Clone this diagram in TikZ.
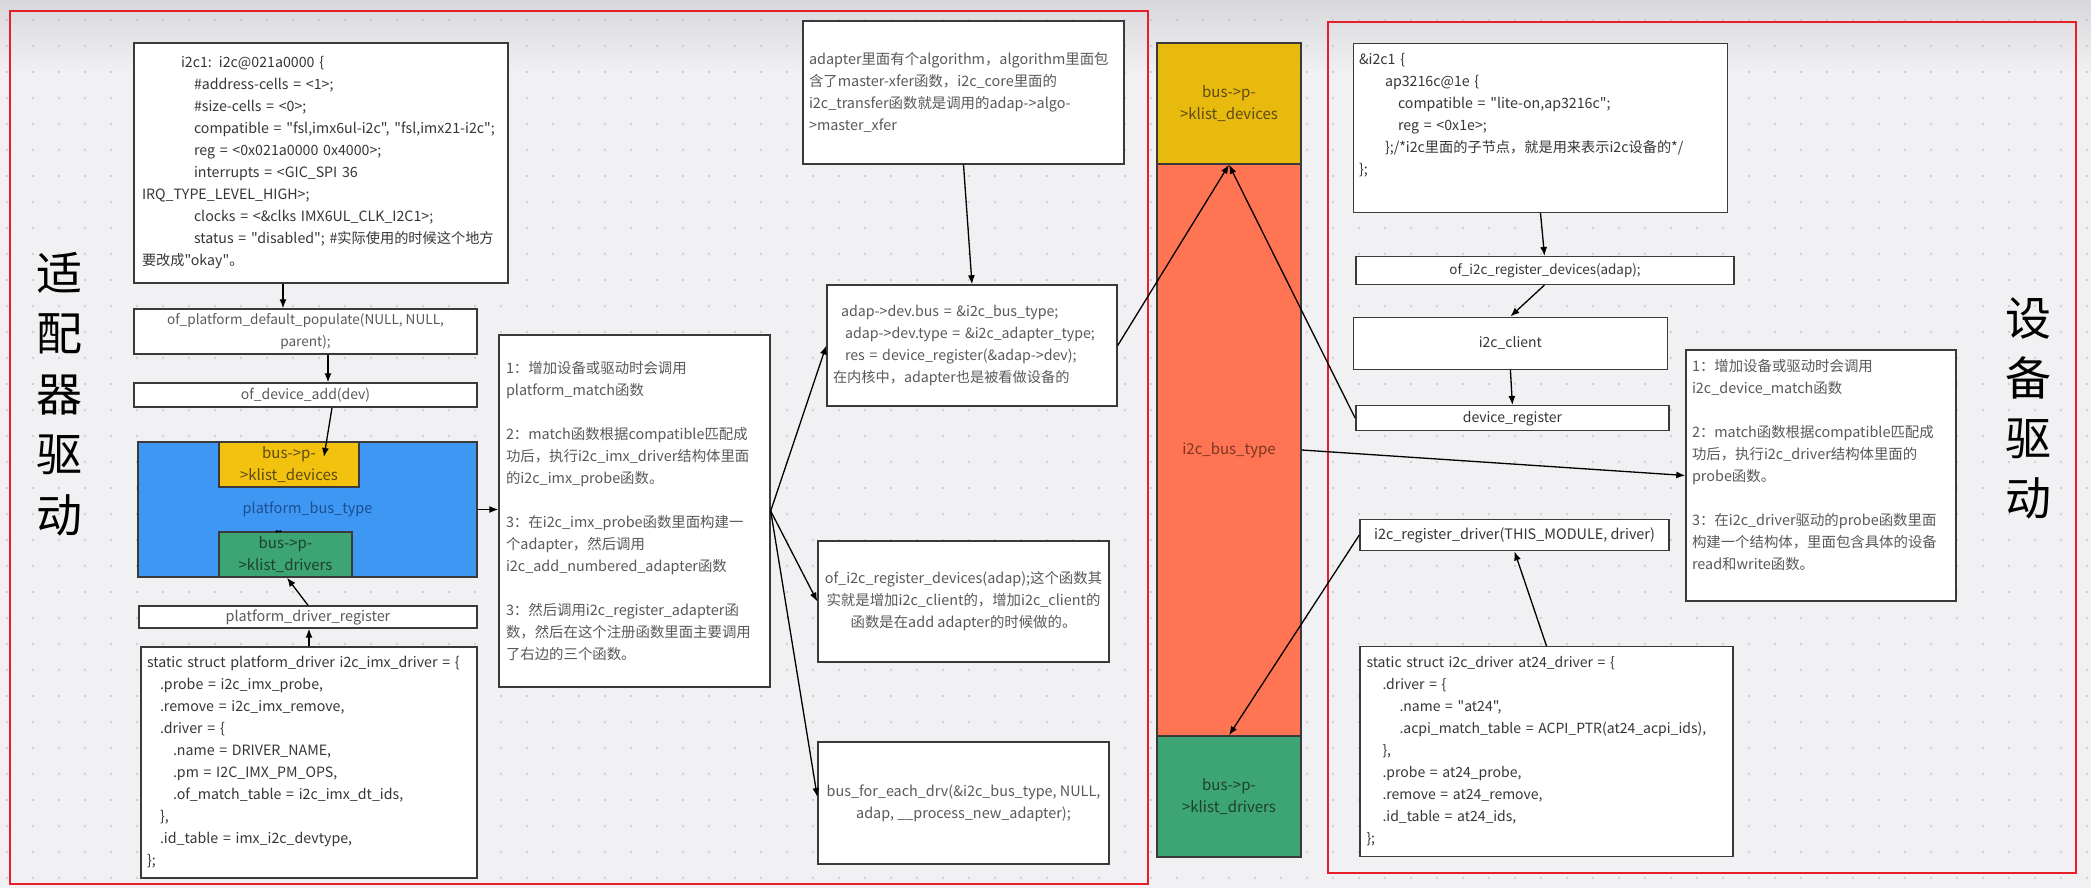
\documentclass[tikz,border=0pt]{standalone}
\usepackage{fontspec}
\setmainfont{Noto Sans CJK SC}[Ligatures=TeXOff]
\usetikzlibrary{arrows.meta}
\definecolor{paper}{HTML}{F1F1F3}
\definecolor{papertop}{HTML}{D8D8DC}
\definecolor{griddot}{HTML}{C4C4C8}
\definecolor{framered}{HTML}{E5202A}
\definecolor{boxline}{HTML}{3A3A3A}
\definecolor{codetxt}{HTML}{363636}
\definecolor{notetxt}{HTML}{595959}
\definecolor{pbusblue}{HTML}{3F97F4}
\definecolor{pbustxt}{HTML}{1D4E8F}
\definecolor{klyellow}{HTML}{F2C20E}
\definecolor{klyellowtxt}{HTML}{5B4A14}
\definecolor{klgreen}{HTML}{3CA573}
\definecolor{klgreentxt}{HTML}{1F3F2F}
\definecolor{busorange}{HTML}{FF7452}
\definecolor{busorangetxt}{HTML}{7A3524}
\newcommand{\indt}[1]{\hspace*{#1pt}}
\tikzset{
  box/.style={
    rectangle, draw=boxline, fill=white, line width=1.4pt,
    inner xsep=6pt, inner ysep=0pt, text=codetxt,
  },
  codebox/.style={box, align=left, font=\fontsize{14.2}{22}\selectfont},
  notebox/.style={box, align=left, text=notetxt, font=\fontsize{14.4}{22}\selectfont},
  lblbox/.style={box, align=center, text=notetxt, font=\fontsize{14.4}{22}\selectfont},
  devlbl/.style={box, align=center, font=\fontsize{14}{22}\selectfont},
  listbox/.style={
    rectangle, draw=boxline, line width=1.4pt, inner sep=0pt,
    align=center, font=\fontsize{15}{22}\selectfont,
  },
  bigchar/.style={align=center, text=black, font=\fontsize{46}{60.5}\selectfont},
  frame/.style={draw=framered, line width=2pt},
  arr/.style={-{Latex[length=9pt,width=7pt]}, line width=1.3pt, black},
  tinyarr/.style={{Latex[length=3pt,width=3pt]}-{Latex[length=3pt,width=3pt]}, line width=0.8pt, black},
}

\begin{document}
\begin{tikzpicture}[x=1pt, y=-1pt]

% ── canvas ──────────────────────────────────────────────────────────────
\useasboundingbox (0,0) rectangle (2091,888);
\fill[paper] (0,0) rectangle (2091,888);
\shade[top color=papertop, bottom color=paper] (0,0) rectangle (2091,75);
\foreach \i in {0,...,80}
  \foreach \j in {0,...,33}
    \fill[griddot] (7+26*\i, 20+26*\j) circle (1.1pt);

% ── the two red frames ─────────────────────────────────────────────────
\draw[frame] (10,11) rectangle (1148,884);
\draw[frame] (1327.5,22) rectangle (2076,873);

\node[bigchar] (adaptlbl) at (59,394) {适\\配\\器\\驱\\动};
\node[bigchar, font=\fontsize{46}{60}\selectfont] (drvlbl) at (2028,408) {设\\备\\驱\\动};

% ── left column: platform side ─────────────────────────────────────────
\node[codebox, inner xsep=3pt, minimum width=374pt, minimum height=240pt, text width=368pt] (dt) at (321,163) {%
\indt{44}i2c1: i2c@021a0000 \{\\
\indt{57}\#address-cells = <1>;\\
\indt{57}\#size-cells = <0>;\\
\indt{57}compatible = "fsl,imx6ul-i2c", "fsl,imx21-i2c";\\
\indt{57}reg = <0x021a0000 0x4000>;\\
\indt{57}interrupts = <GIC\_SPI 36\\
\indt{5}IRQ\_TYPE\_LEVEL\_HIGH>;\\
\indt{57}clocks = <\&clks IMX6UL\_CLK\_I2C1>;\\
\indt{57}status = "disabled"; \#实际使用的时候这个地方\\
\indt{5}要改成"okay"。};

\node[lblbox, font=\fontsize{13.6}{22}\selectfont, minimum width=343pt, minimum height=45pt] (ofpop) at (305.5,331.5)
  {of\_platform\_default\_populate(NULL, NULL,\\parent);};
\node[lblbox, font=\fontsize{14}{22}\selectfont, minimum width=343pt, minimum height=24pt] (ofadd) at (305.5,395)
  {of\_device\_add(dev)};

\node[listbox, fill=pbusblue, text=pbustxt, font=\fontsize{14.5}{22}\selectfont,
      minimum width=339pt, minimum height=135pt] (pbus) at (307.5,509.5) {platform\_bus\_type};
\node[listbox, fill=klyellow, text=klyellowtxt, minimum width=140pt, minimum height=45pt]
  (pdev) at (289,464.5) {bus->p-\\>klist\_devices};
\node[listbox, fill=klgreen, text=klgreentxt, minimum width=133pt, minimum height=45pt]
  (pdrv) at (285.5,554.5) {bus->p-\\>klist\_drivers};

\node[lblbox, minimum width=338pt, minimum height=22pt] (preg) at (308,617)
  {platform\_driver\_register};

\node[codebox, minimum width=336pt, minimum height=231pt, text width=324pt] (imxdrv) at (309,762.5) {%
static struct platform\_driver i2c\_imx\_driver = \{\\
\indt{13}.probe = i2c\_imx\_probe,\\
\indt{13}.remove = i2c\_imx\_remove,\\
\indt{13}.driver = \{\\
\indt{26}.name = DRIVER\_NAME,\\
\indt{26}.pm = I2C\_IMX\_PM\_OPS,\\
\indt{26}.of\_match\_table = i2c\_imx\_dt\_ids,\\
\indt{13}\},\\
\indt{13}.id\_table = imx\_i2c\_devtype,\\
\};};

% ── notes in the middle ────────────────────────────────────────────────
\node[notebox, minimum width=271pt, minimum height=352pt, text width=257pt] (note1) at (634.5,511) {%
1：增加设备或驱动时会调用\\
platform\_match函数\\[22pt]
2：match函数根据compatible匹配成\\
功后，执行i2c\_imx\_driver结构体里面\\
的i2c\_imx\_probe函数。\\[22pt]
3：在i2c\_imx\_probe函数里面构建一\\
个adapter，然后调用\\
i2c\_add\_numbered\_adapter函数\\[22pt]
3：然后调用i2c\_register\_adapter函\\
数，然后在这个注册函数里面主要调用\\
了右边的三个函数。};

\node[notebox, minimum width=321pt, minimum height=143pt, text width=309pt] (algo) at (963.5,92.5) {%
adapter里面有个algorithm，algorithm里面包\\
含了master-xfer函数，i2c\_core里面的\\
i2c\_transfer函数就是调用的adap->algo-\\
>master\_xfer};

\node[codebox, text=notetxt, minimum width=290pt, minimum height=121pt, text width=278pt] (adap) at (972,345.5) {%
\indt{8}adap->dev.bus = \&i2c\_bus\_type;\\
\indt{12}adap->dev.type = \&i2c\_adapter\_type;\\
\indt{12}res = device\_register(\&adap->dev);\\
在内核中，adapter也是被看做设备的};

\node[lblbox, minimum width=291pt, minimum height=121pt] (ofi2c) at (963.5,601.5)
  {of\_i2c\_register\_devices(adap);这个函数其\\实就是增加i2c\_client的，增加i2c\_client的\\函数是在add adapter的时候做的。};
\node[lblbox, minimum width=291pt, minimum height=122pt] (busfor) at (963.5,803)
  {bus\_for\_each\_drv(\&i2c\_bus\_type, NULL,\\adap, \_\_process\_new\_adapter);};

% ── i2c_bus_type column ────────────────────────────────────────────────
\node[listbox, fill=klyellow!96!black, text=klyellowtxt, minimum width=144pt, minimum height=121pt]
  (coldev) at (1229,103.5) {bus->p-\\>klist\_devices};
\node[listbox, fill=busorange, text=busorangetxt, minimum width=144pt, minimum height=572pt]
  (coltype) at (1229,450) {i2c\_bus\_type};
\node[listbox, fill=klgreen, text=klgreentxt, minimum width=144pt, minimum height=121pt]
  (coldrv) at (1229,796.5) {bus->p-\\>klist\_drivers};

% ── right column: device side ──────────────────────────────────────────
\node[codebox, inner xsep=5.5pt, minimum width=374pt, minimum height=169pt, text width=363pt] (i2c1) at (1540.5,127.8) {%
\&i2c1 \{\\
\indt{26}ap3216c@1e \{\\
\indt{39}compatible = "lite-on,ap3216c";\\
\indt{39}reg = <0x1e>;\\
\indt{26}\};/*i2c里面的子节点，就是用来表示i2c设备的*/\\
\};\\
\strut};

\node[devlbl, font=\fontsize{13.4}{22}\selectfont, minimum width=378pt, minimum height=27.6pt] (ofreg) at (1545,270.5)
  {of\_i2c\_register\_devices(adap);};
\node[devlbl, minimum width=314pt, minimum height=52pt] (client) at (1510.4,343.2)
  {i2c\_client};
\node[devlbl, minimum width=313pt, minimum height=25pt] (devreg) at (1512.4,418.2)
  {device\_register};

\node[notebox, minimum width=270pt, minimum height=251pt, text width=258pt] (note2) at (1821,475.5) {%
1：增加设备或驱动时会调用\\
i2c\_device\_match函数\\[22pt]
2：match函数根据compatible匹配成\\
功后，执行i2c\_driver结构体里面的\\
probe函数。\\[22pt]
3：在i2c\_driver驱动的probe函数里面\\
构建一个结构体，里面包含具体的设备\\
read和write函数。\\[-6pt]
\strut};

\node[devlbl, font=\fontsize{14.4}{22}\selectfont, minimum width=309pt, minimum height=31.4pt] (regdrv) at (1514.5,535)
  {i2c\_register\_driver(THIS\_MODULE, driver)};

\node[codebox, font=\fontsize{14}{22}\selectfont, inner xsep=6.5pt, minimum width=373pt, minimum height=210pt, text width=360pt] (at24) at (1546.5,751.7) {%
static struct i2c\_driver at24\_driver = \{\\
\indt{16}.driver = \{\\
\indt{33}.name = "at24",\\
\indt{33}.acpi\_match\_table = ACPI\_PTR(at24\_acpi\_ids),\\
\indt{16}\},\\
\indt{16}.probe = at24\_probe,\\
\indt{16}.remove = at24\_remove,\\
\indt{16}.id\_table = at24\_ids,\\
\};};

% ── arrows: platform side ──────────────────────────────────────────────
\draw[arr] ([xshift=-38pt]dt.south) -- ([xshift=-22.5pt]ofpop.north);
\draw[arr] ([xshift=22.5pt]ofpop.south) -- ([xshift=22.5pt]ofadd.north);
\draw[arr] ([xshift=26.5pt]ofadd.south) -- ([xshift=35pt,yshift=7.5pt]pdev.center);
\draw[arr] (preg.north) -- ([xshift=1.5pt]pdrv.south);
\draw[arr] (imxdrv.north) -- (imxdrv.north |- preg.south);
\draw[tinyarr] ([xshift=-11pt]pdrv.north) -- ([xshift=-3pt]pdrv.north);
\draw[arr] (pbus.east) -- (pbus.east -| note1.west);

% ── arrows: fan out of the notes ───────────────────────────────────────
\draw[arr] (note1.east) -- (adap.west);
\draw[arr] (note1.east) -- (ofi2c.west);
\draw[arr] (note1.east) -- ([yshift=6pt]busfor.west);
\draw[arr] (algo.south) -- (adap.north);

% ── arrows: into the i2c bus ───────────────────────────────────────────
\draw[arr] (adap.east) -- (coldev.south);
\draw[arr] (devreg.west) -- (coldev.south);
\draw[arr] (coltype.east) -- (note2.west);
\draw[arr] (regdrv.west) -- (coldrv.north);

% ── arrows: device side ────────────────────────────────────────────────
\draw[arr] (i2c1.south) -- ([xshift=-0.5pt]ofreg.north);
\draw[arr] ([xshift=-0.5pt]ofreg.south) -- (client.north);
\draw[arr] (client.south) -- (devreg.north);
\draw[arr] (at24.north) -- (regdrv.south);

\end{tikzpicture}
\end{document}
